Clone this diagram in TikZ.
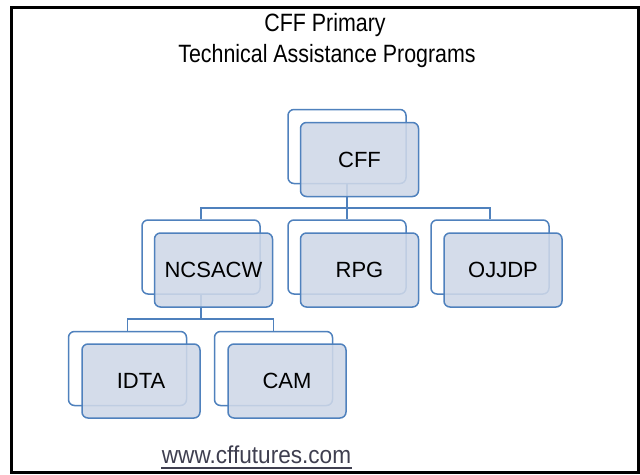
\documentclass[tikz,border=0pt]{standalone}
\usepackage{fontspec}
\setmainfont{Liberation Sans}
\definecolor{obl}{RGB}{79,129,189}
\definecolor{ofill}{RGB}{207,216,232}
\definecolor{urlc}{RGB}{63,63,80}
\tikzset{
  backbox/.style={draw=obl, line width=1.5pt, fill=white, rounded corners=6pt, minimum width=118pt, minimum height=74pt, inner sep=0pt},
  frontbox/.style={draw=obl, line width=1.5pt, fill=ofill, fill opacity=0.88, text opacity=1, rounded corners=6pt, minimum width=118pt, minimum height=74pt, inner sep=0pt, font=\fontsize{22}{25}\selectfont},
  conn/.style={draw=obl, line width=1.5pt},
  titletext/.style={anchor=base, font=\fontsize{21.4}{24}\selectfont},
}
\begin{document}
\begin{tikzpicture}[x=1pt,y=-1pt]
\useasboundingbox (0,0) rectangle (640,474);
\fill[white] (0,0) rectangle (640,474);
\draw[black, line width=3pt] (11,7) rectangle (638,472.5);
% title
\node[titletext] (t1) at (325,31) {\scalebox{1}[1.17]{CFF Primary}};
\node[titletext] (t2) at (327,62) {\scalebox{1}[1.17]{Technical Assistance Programs}};
% back boxes
\node[backbox] (cffb) at (347,146.5) {};
\node[backbox] (ncb) at (201,257) {};
\node[backbox] (rpgb) at (347,257) {};
\node[backbox] (ojb) at (490,257) {};
\node[backbox] (idb) at (127.5,368.5) {};
\node[backbox] (camb) at (273.5,368.5) {};
% connectors
\coordinate (bus1) at (347,208);
\coordinate (bus2) at (201,319);
\draw[conn] (cffb.south) -- (bus1);
\draw[conn] (ncb.north) |- (bus1) -| (ojb.north);
\draw[conn] (bus1) -- (rpgb.north);
\draw[conn] (ncb.south) -- (bus2);
\draw[conn] (idb.north) |- (bus2) -| (camb.north);
% front boxes
\node[frontbox] (cff) at (359.5,159.5) {CFF};
\node[frontbox] (nc) at (213.5,270) {NCSACW};
\node[frontbox] (rpg) at (359.5,270) {RPG};
\node[frontbox] (oj) at (503,270) {OJJDP};
\node[frontbox] (id) at (141,381) {IDTA};
\node[frontbox] (cam) at (287,381) {CAM};
% url
\node[anchor=base, text=urlc, font=\fontsize{22.6}{26}\selectfont] (url) at (256.5,463) {\scalebox{1}[1.08]{www.cffutures.com}};
\draw[urlc, line width=2pt] (161,468) -- (352,468);
\end{tikzpicture}
\end{document}
